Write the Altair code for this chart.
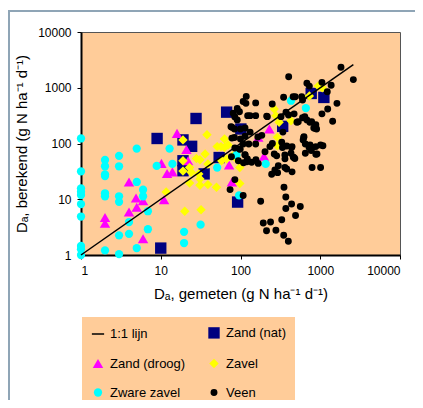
import altair as alt
import pandas as pd

# ---- data ----
series_names = ["1:1 lijn", "Zand (nat)", "Zand (droog)", "Zavel", "Zware zavel", "Veen"]

nat_x = [9.0, 19, 19, 19, 24.4, 27.7, 35, 54, 67, 101, 92, 10, 338, 770, 1110]
nat_y = [123, 116, 49, 32.5, 89, 281, 28.5, 56, 365, 182, 8.9, 1.33, 203, 790, 670]

droog_x = [16, 21, 10.2, 12, 14, 22, 4.0, 4.9, 6, 5, 4, 2, 2, 6, 11, 230, 167, 197, 72, 78]
droog_y = [152, 78, 44, 29, 31, 49, 20.4, 10.5, 9.4, 7.2, 5.9, 4.7, 3.7, 1.96, 9.8, 182, 129, 59, 41, 20.4]

zavel_x = [38, 63, 51, 57, 63, 70, 36, 28, 31, 39, 58, 67, 23, 24, 30, 31, 290, 290, 265, 278,
           305, 430, 945, 1060, 730, 98, 50, 39, 31, 23, 32, 20, 11.7, 19, 19, 19, 80, 90, 98]
zavel_y = [144, 120, 88, 88, 85, 94, 65, 54, 51, 43, 49, 53, 37, 30.6, 28.5, 23, 129, 91, 415, 315,
           240, 255, 1070, 1000, 710, 19.2, 16.4, 18.3, 17.8, 19.5, 6.5, 6.1, 13.5, 116, 49, 32, 60, 52, 37]

zware_x = [1, 1, 1, 1, 1, 1, 1, 1, 1, 1, 2, 2, 2, 2, 2, 2, 2, 3, 3, 3, 3, 3, 3, 4, 4, 5, 5, 5,
           6, 6, 6.9, 6.9, 8.9, 12.9, 14, 19.6, 19.6, 31.6, 51, 89, 96, 207, 430, 660]
zware_y = [123, 31.6, 15.7, 13.7, 11.9, 8.2, 4.9, 1.45, 1.27, 1.0, 50.6, 39, 28, 26, 12.8, 11.3, 1.21,
           60, 39, 11.3, 9, 2.25, 1.04, 3.9, 2.4, 81, 20.4, 1.33, 14.8, 11.3, 6.1, 2.9, 39.6, 81, 43,
           2.6, 1.64, 3.5, 37, 62, 11.7, 43, 585, 432]

veen_x = [1820, 2600, 402, 680, 730, 1050, 1370, 1225, 585, 485, 600, 1620, 118, 108, 117, 155, 250, 347,
          457, 1240, 1430, 1050, 155, 123, 91, 97, 81, 85, 91, 76, 213, 400, 470, 530, 600, 780, 860, 340,
          625, 640, 680, 740, 880, 900, 830, 510, 620, 650, 725, 800, 770, 1080, 910, 650, 465, 790, 443,
          443, 132, 322, 372, 217,
          78, 84, 100, 114, 132, 165, 185, 78, 84, 100, 114, 127, 155, 85, 99, 77, 114, 122, 109, 94, 138,
          156, 167, 203, 234, 265, 251, 284, 329, 361, 430, 437, 459, 380, 292, 246, 298, 610, 745, 880,
          1010, 880, 480, 1010, 360, 270, 360, 380, 336, 98, 108, 114, 120,
          85, 74, 108, 179, 351, 370, 437, 370, 329, 490, 193, 238, 212, 278, 348, 398, 562]
veen_y = [2330, 1400, 1580, 1200, 1070, 1250, 1110, 850, 690, 690, 600, 525, 700, 565, 525, 535, 510, 675,
          690, 415, 250, 340, 316, 316, 427, 370, 348, 300, 265, 200, 310, 325, 340, 245, 290, 245, 187, 160,
          132, 303, 265, 240, 218, 182, 190, 240, 128, 98, 85, 85, 75, 91, 65, 67, 56, 37, 88,
          31, 316, 303, 365, 303,
          196, 182, 182, 190, 160, 131, 140, 125, 128, 120, 135, 98, 98, 83, 80, 58, 63, 53, 45, 49, 46,
          51, 44, 71, 88, 65, 100, 60, 105, 53, 67, 85, 57, 35, 30, 28, 40, 116, 94, 88,
          94, 64, 54, 37, 37, 33.4, 62, 90, 85, 79, 98, 62, 47,
          22.5, 14.9, 11.7, 9.2, 16.4, 11, 8.2, 6.8, 4.3, 5.1, 3.75, 3.9, 2.73, 2.77, 2.26, 1.76, 7.4]

line_x = [1, 2600]
line_y = [1, 2600]

tick_values = [1, 10, 100, 1000, 10000]

# ---- build tables ----
rows = []
for name, xs, ys in [("Zand (nat)", nat_x, nat_y), ("Zand (droog)", droog_x, droog_y),
                     ("Zavel", zavel_x, zavel_y), ("Zware zavel", zware_x, zware_y),
                     ("Veen", veen_x, veen_y)]:
    for a, b in zip(xs, ys):
        rows.append({"x": a, "y": b, "series": name})
df = pd.DataFrame(rows)
df_line = pd.DataFrame({"x": line_x, "y": line_y})

FONT = "Liberation Sans"
fills = ["#000000", "#000080", "#FF00FF", "#FFFF00", "#00FFFF", "#000000"]
strokes = ["#000000", "transparent", "transparent", "transparent", "transparent", "transparent"]
shapes = ["stroke", "square", "triangle-up", "diamond", "circle", "circle"]
sizes = [150, 48, 50, 44, 52, 19]

xscale = alt.Scale(type="log", domain=[1, 10000], nice=False)
yscale = alt.Scale(type="log", domain=[1, 10000], nice=False)

legend = alt.Legend(title=None, orient="none", direction="horizontal", legendX=1, legendY=285,
                    columns=2, fillColor="#FFCC99", padding=9, rowPadding=13, columnPadding=19,
                    labelFont=FONT, labelFontSize=13, labelColor="black",
                    symbolStrokeWidth=1.5, labelOffset=5)

xaxis = alt.Axis(values=tick_values, format="d", grid=False, domainColor="black", domainWidth=2,
                 tickColor="black", tickSize=4, labelFont=FONT, labelFontSize=12,
                 labelColor="black", labelPadding=6,
                 title="Dₐ, gemeten (g N ha⁻¹ d⁻¹)", titleFont=FONT, titleFontSize=15,
                 titleFontWeight="normal", titleColor="black", titlePadding=10)
yaxis = alt.Axis(values=tick_values, format="d", grid=False, domainColor="black", domainWidth=2,
                 tickColor="black", tickSize=4, labelFont=FONT, labelFontSize=12,
                 labelColor="black", labelPadding=6,
                 title="Dₐ, berekend (g N ha⁻¹ d⁻¹)", titleFont=FONT, titleFontSize=15,
                 titleFontWeight="normal", titleColor="black", titlePadding=8)

points = alt.Chart(df).mark_point(filled=True, opacity=1).encode(
    x=alt.X("x:Q", scale=xscale, axis=xaxis),
    y=alt.Y("y:Q", scale=yscale, axis=yaxis),
    fill=alt.Fill("series:N", scale=alt.Scale(domain=series_names, range=fills), legend=legend),
    stroke=alt.Stroke("series:N", scale=alt.Scale(domain=series_names, range=strokes), legend=legend),
    shape=alt.Shape("series:N", scale=alt.Scale(domain=series_names, range=shapes), legend=legend),
    size=alt.Size("series:N", scale=alt.Scale(domain=series_names, range=sizes), legend=legend),
)

line = alt.Chart(df_line).mark_line(color="black", strokeWidth=1.5).encode(
    x=alt.X("x:Q", scale=xscale),
    y=alt.Y("y:Q", scale=yscale),
)

frame = alt.Chart(pd.DataFrame({"k": [0]})).mark_rect(
    fillOpacity=0, stroke="#8FA5B6", strokeWidth=2
).encode(x=alt.value(-72), x2=alt.value(420), y=alt.value(-21), y2=alt.value(500))

chart = alt.layer(frame, points, line).properties(
    width=319, height=223,
    autosize=alt.AutoSizeParams(type="none"),
    padding={"left": 73, "top": 24, "right": 15, "bottom": 145},
).configure_view(fill="#FFCC99", stroke="#555555", strokeWidth=1)

chart.save("out.html", embed_options={"renderer": "svg", "actions": False})
